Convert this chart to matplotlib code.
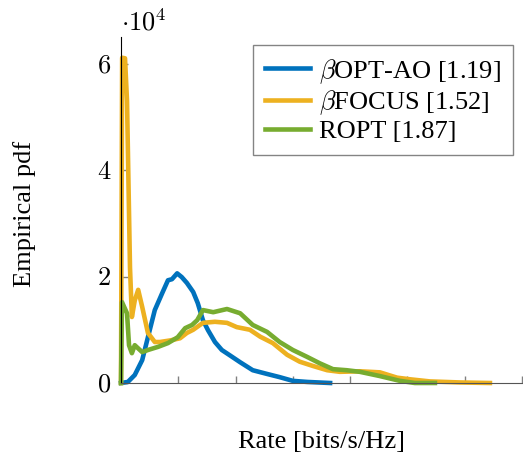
import matplotlib
matplotlib.use("Agg")
import matplotlib.pyplot as plt

plt.rcParams['font.family'] = ['Liberation Serif', 'DejaVu Serif']
plt.rcParams['mathtext.fontset'] = 'cm'

# rate [bits/s/Hz] and empirical pdf (x 1e4)
rate_ao = [0, 0.12, 0.24, 0.37, 0.47, 0.59, 0.72, 0.82, 0.89, 0.98, 1.06, 1.15, 1.26,
           1.34, 1.43, 1.52, 1.64, 1.76, 1.90, 2.08, 2.30, 2.55, 2.77, 3.00, 3.25, 3.65]
pdf_ao = [0, 0.02, 0.15, 0.43, 0.86, 1.37, 1.69, 1.93, 1.95, 2.06, 1.99, 1.88, 1.71,
          1.50, 1.18, 0.99, 0.77, 0.62, 0.52, 0.39, 0.24, 0.17, 0.11, 0.04, 0.02, 0]

rate_focus = [0, 0.02, 0.07, 0.105, 0.157, 0.19, 0.24, 0.30, 0.37, 0.47, 0.59, 0.68,
              0.86, 1.03, 1.15, 1.26, 1.43, 1.64, 1.85, 2.02, 2.25, 2.43, 2.65, 2.90,
              3.12, 3.35, 3.60, 3.82, 4.17, 4.52, 4.82, 5.04, 5.39, 5.92, 6.44]
pdf_focus = [0, 6.11, 6.1, 5.3, 2.17, 1.24, 1.55, 1.75, 1.43, 0.94, 0.77, 0.77,
             0.80, 0.84, 0.94, 1.0, 1.13, 1.15, 1.13, 1.05, 1.0, 0.87, 0.75, 0.53,
             0.40, 0.32, 0.24, 0.21, 0.22, 0.20, 0.10, 0.07, 0.03, 0.01, 0]

rate_ropt = [0, 0.017, 0.105, 0.14, 0.19, 0.24, 0.37, 0.47, 0.65, 0.82, 0.99, 1.12,
             1.24, 1.33, 1.43, 1.61, 1.85, 2.08, 2.30, 2.55, 2.77, 3.00, 3.25, 3.47,
             3.70, 3.94, 4.17, 4.52, 4.87, 5.13, 5.48]
pdf_ropt = [0, 1.52, 1.31, 0.71, 0.56, 0.71, 0.58, 0.62, 0.68, 0.75, 0.86, 1.03,
            1.09, 1.18, 1.37, 1.33, 1.39, 1.31, 1.09, 0.96, 0.77, 0.62, 0.49, 0.37,
            0.26, 0.24, 0.21, 0.13, 0.04, 0, 0]

labels = [r'$\beta$OPT-AO [1.19]', r'$\beta$FOCUS [1.52]', 'ROPT [1.87]']
colors = ['#0072BD', '#EDB120', '#77AC30']
yticks = [0, 2, 4, 6]

fig = plt.figure(figsize=(5.23, 4.58), dpi=100)
ax = fig.add_axes([121 / 523, 1 - 383 / 458, 401 / 523, 346 / 458])

series = [(rate_ao, pdf_ao), (rate_focus, pdf_focus), (rate_ropt, pdf_ropt)]
for (r, p), lab, c in zip(series, labels, colors):
    ax.plot(r, [v * 1e4 for v in p], color=c, linewidth=3.3, label=lab, clip_on=False)

ax.set_xlim(0, 7)
ax.set_ylim(0, 6.5e4)
ax.set_xticks(range(8))
ax.set_xticklabels([])
ax.set_yticks([t * 1e4 for t in yticks])
ax.set_yticklabels([f'${t}$' for t in yticks], fontsize=19)
ax.tick_params(direction='in', length=5, color='#808080', width=1)
ax.tick_params(axis='y', pad=7)

ax.spines['top'].set_visible(False)
ax.spines['right'].set_visible(False)
ax.spines['left'].set_color('black')
ax.spines['bottom'].set_color('#555555')

ax.set_xlabel('Rate [bits/s/Hz]', fontsize=19, va='top')
ax.xaxis.set_label_coords(0.5, -0.14)
ax.set_ylabel('Empirical pdf', fontsize=19, va='center')
ax.yaxis.set_label_coords((25 - 121) / 401, 0.488)
fig.text(121 / 523, 1 - 22 / 458, r'$\cdot 10^4$', fontsize=19, va='center', ha='left')

leg = ax.legend(loc='upper left', bbox_to_anchor=(0.329, 0.977), borderaxespad=0,
                fontsize=19, frameon=True, fancybox=False, edgecolor='#666666',
                handlelength=1.7, borderpad=0.45, labelspacing=0.1, handletextpad=0.35)
leg.get_frame().set_linewidth(1)

fig.savefig('out.png', dpi=100)
